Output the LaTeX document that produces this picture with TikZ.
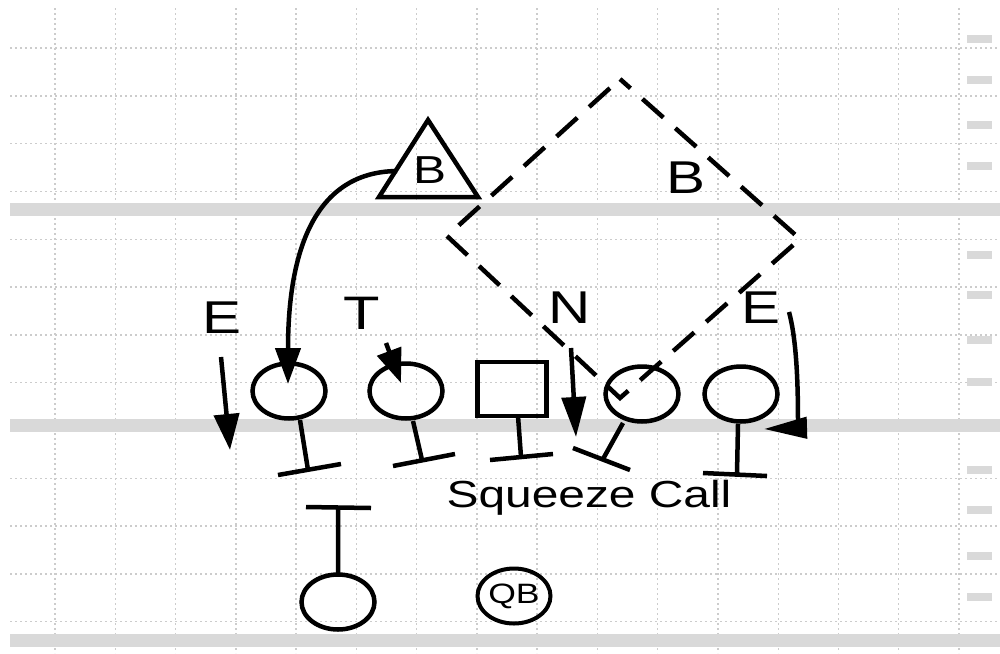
\documentclass[tikz,border=0pt]{standalone}
\usepackage{fontspec}
\setmainfont{Liberation Sans}
\newfontfamily\lblfont[FakeStretch=1.27]{Liberation Sans}
\usetikzlibrary{arrows.meta,shapes.geometric}
\begin{document}
\begin{tikzpicture}[x=1pt,y=-1pt,
  gridline/.style={gray!40, line width=1.4pt, dash pattern=on 2pt off 3pt},
  yardline/.style={gray!30, line width=13pt},
  hashmark/.style={gray!30, line width=8pt},
  player/.style={draw, ellipse, line width=4.5pt, minimum width=73pt, minimum height=55pt, inner sep=0pt},
  centerbox/.style={draw, rectangle, line width=4.5pt, minimum width=69pt, minimum height=54pt, inner sep=0pt},
  blockline/.style={line width=4.5pt},
  route/.style={line width=4.5pt, -{Triangle[length=36pt,width=25pt]}},
  lbl/.style={font=\lblfont\fontsize{46}{46}\selectfont, anchor=base, inner sep=0pt},
]
\useasboundingbox (0,0) rectangle (1000,653);
\fill[white] (0,0) rectangle (1000,653);
% grid
\foreach \i in {0,...,15} \draw[gridline] ({55+60.27*\i},8) -- ({55+60.27*\i},653);
\foreach \j in {0,...,12} \draw[gridline] (10,{48+47.8*\j}) -- (1000,{48+47.8*\j});
\foreach \y in {209,425,640} \draw[yardline] (10,\y) -- (1000,\y);
\foreach \y in {39,80,125,166,255,295,340,382,470,510,556,597} \draw[hashmark] (967,\y) -- (992,\y);

% players
\node[player] (LT) at (289,391) {};
\node[player] (LG) at (406,391) {};
\node[centerbox] (C) at (512,389) {};
\node[player] (RG) at (642,394) {};
\node[player] (RT) at (741,394) {};
\node[player] (RB) at (338,602) {};
\node[player, line width=4pt, font=\lblfont\fontsize{28}{28}\selectfont] (QB) at (514,596) {QB};

% blocking marks
\draw[blockline] (300,420) -- (308,470) (278,475) -- (341,464);
\draw[blockline] (413,421) -- (422,460) (393,466) -- (455,454);
\draw[blockline] (518,416) -- (521,457) (490,460) -- (553,454);
\draw[blockline] (623,423) -- (603,459) (573,448) -- (630,470);
\draw[blockline] (738,424) -- (737,474) (703,473) -- (767,476);
\draw[blockline] (338,574) -- (338,507) (306,507) -- (371,508);

% defenders
\draw[line width=4.5pt] (428,120) -- (478,197) -- (379,197) -- cycle;
\node[lbl, font=\lblfont\fontsize{39}{39}\selectfont] (B1) at (430,183) {B};
\draw[line width=4.5pt, dash pattern=on 28pt off 16pt, dash phase=14pt]
  (620,79) -- (800,239) -- (620,398) -- (447,236) -- cycle;
\node[lbl] (B2) at (686,193) {B};
\node[lbl] (E1) at (222,333) {E};
\node[lbl, font=\lblfont\fontsize{47}{47}\selectfont] (T1) at (362,329) {T};
\node[lbl] (N1) at (570,323) {N};
\node[lbl] (E2) at (761,323) {E};
\node[lbl, font=\lblfont\fontsize{37.7}{37.7}\selectfont] (SC) at (589,507) {Squeeze Call};

% routes
\coordinate (bs) at (397,171);
\coordinate (bt) at (288,384);
\draw[route] (bs) .. controls (310,172) and (288,260) .. (bt);
\coordinate (e1s) at (221,357);
\coordinate (e1t) at (230,450);
\draw[route] (e1s) -- (e1t);
\coordinate (ts) at (386,343);
\coordinate (tt) at (401,383);
\draw[line width=4.5pt, -{Triangle[length=34pt,width=25pt]}] (ts) -- (tt);
\coordinate (ns) at (571,348);
\coordinate (nt) at (576,437);
\draw[line width=4.5pt, -{Triangle[length=40pt,width=24pt]}] (ns) -- (nt);
\coordinate (e2s) at (789,312);
\coordinate (e2m) at (798,428);
\coordinate (e2t) at (764,429);
\draw[line width=4.5pt, -{Triangle[length=43pt,width=21pt]}] (e2s) .. controls (798,345) and (798,400) .. (e2m) -- (e2t);
\end{tikzpicture}
\end{document}
